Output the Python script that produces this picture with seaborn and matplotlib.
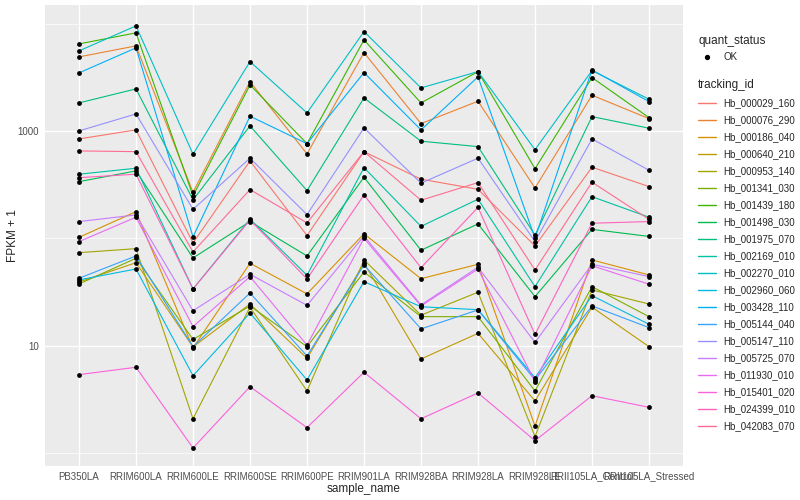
import matplotlib
matplotlib.use("Agg")
import matplotlib.pyplot as plt
import seaborn as sns
import pandas as pd
from matplotlib.lines import Line2D
from matplotlib.ticker import FixedLocator, NullFormatter

# samples on the x axis
samples = ["PB350LA", "RRIM600LA", "RRIM600LE", "RRIM600SE", "RRIM600PE", "RRIM901LA",
           "RRIM928BA", "RRIM928LA", "RRIM928LE", "RRII105LA_Control", "RRII105LA_Stressed"]

genes = ["Hb_000029_160", "Hb_000076_290", "Hb_000186_040", "Hb_000640_210", "Hb_000953_140",
         "Hb_001341_030", "Hb_001439_180", "Hb_001498_030", "Hb_001975_070", "Hb_002169_010",
         "Hb_002270_010", "Hb_002960_060", "Hb_003428_110", "Hb_005144_040", "Hb_005147_110",
         "Hb_005725_070", "Hb_011930_010", "Hb_015401_020", "Hb_024399_010", "Hb_042083_070"]

# ggplot hue palette, 20 levels
colors = ["#F8766D", "#EA8331", "#D89000", "#C09B00", "#A3A500", "#7CAE00", "#39B600",
          "#00BB4E", "#00BF7D", "#00C1A3", "#00BFC4", "#00BAE0", "#00B0F6", "#35A2FF",
          "#9590FF", "#C77CFF", "#E76BF3", "#FA62DB", "#FF62BC", "#FF6C91"]

# FPKM + 1 per gene, one value per sample
fpkm = {
    "Hb_000029_160": [842, 1022, 90.4, 525, 106, 641, 355, 286, 84.8, 459, 303],
    "Hb_000076_290": [4894, 6197, 268, 2880, 611, 5368, 1170, 1891, 294, 2151, 1302],
    "Hb_000186_040": [102, 177, 9.5, 58.5, 30.3, 110, 42.0, 57.2, 1.78, 62.8, 45.5],
    "Hb_000640_210": [39.1, 59.2, 9.7, 24.4, 7.61, 58.5, 7.5, 13.0, 3.05, 22.8, 9.77],
    "Hb_000953_140": [73.4, 80.0, 2.08, 22.8, 3.78, 62.8, 19.2, 31.4, 1.42, 33.0, 24.4],
    "Hb_001341_030": [37.5, 65.1, 11.4, 23.4, 9.77, 48.5, 18.6, 18.6, 3.78, 35.4, 18.6],
    "Hb_001439_180": [6468, 8192, 248, 2684, 761, 7048, 1824, 3570, 445, 3139, 1330],
    "Hb_001498_030": [337, 424, 65.5, 143, 68.4, 370, 77.3, 136, 28.6, 121, 104],
    "Hb_001975_070": [1824, 2463, 228, 1113, 278, 2030, 802, 714, 107, 1359, 1060],
    "Hb_002169_010": [395, 449, 33.7, 151, 45.2, 455, 129, 231, 35.4, 244, 157],
    "Hb_002270_010": [5566, 9520, 607, 4424, 1472, 8424, 2517, 3570, 669, 3648, 1975],
    "Hb_002960_060": [40.9, 51.7, 5.24, 20.1, 4.78, 39.4, 23.0, 21.6, 5.02, 29.2, 15.8],
    "Hb_003428_110": [3472, 5937, 103, 1371, 761, 3494, 1022, 3187, 100, 3703, 1876],
    "Hb_005144_040": [42.4, 68.4, 9.77, 30.9, 8.0, 56.4, 14.3, 21.5, 4.78, 23.4, 14.7],
    "Hb_005147_110": [1000, 1440, 186, 557, 166, 1067, 326, 557, 93.0, 842, 430],
    "Hb_005725_070": [143, 165, 21.1, 46.2, 23.7, 105, 23.9, 53.7, 10.7, 57.2, 43.9],
    "Hb_011930_010": [93.0, 157, 15.0, 43.9, 10.1, 100, 23.4, 51.7, 4.61, 55.5, 37.3],
    "Hb_015401_020": [5.36, 6.28, 1.11, 4.14, 1.72, 5.64, 2.08, 3.62, 1.30, 3.41, 2.66],
    "Hb_024399_010": [367, 395, 33.7, 148, 41.8, 253, 53.2, 194, 12.7, 138, 143],
    "Hb_042083_070": [651, 641, 74.5, 284, 139, 641, 226, 330, 50.6, 333, 150],
}

rows = []
for g in genes:
    for s, v in zip(samples, fpkm[g]):
        rows.append({"tracking_id": g, "sample_name": s, "fpkm": v, "quant_status": "OK"})
df = pd.DataFrame(rows)

sns.set_theme(style="darkgrid", rc={
    "axes.facecolor": "#EBEBEB",
    "grid.color": "white",
    "axes.edgecolor": "#EBEBEB",
})
plt.rcParams["font.family"] = ["Liberation Sans", "DejaVu Sans"]

fig = plt.figure(figsize=(8, 5), dpi=100)
ax = fig.add_axes([0.056, 0.068, 0.798, 0.922])

sns.lineplot(data=df, x="sample_name", y="fpkm", hue="tracking_id", hue_order=genes,
             palette=colors, linewidth=0.8, legend=False, sort=False, ax=ax)
sns.scatterplot(data=df, x="sample_name", y="fpkm", color="black", s=12, linewidth=0,
                legend=False, ax=ax, zorder=3)

ax.set_yscale("log")
ax.set_ylim(0.755, 14900)
ax.set_xlim(-0.6, 10.6)
ax.set_yticks([10, 1000])
ax.set_yticklabels(["10", "1000"])
ax.yaxis.set_minor_locator(FixedLocator([1, 100, 10000]))
ax.yaxis.set_minor_formatter(NullFormatter())
ax.grid(which="major", color="white", linewidth=1.0)
ax.grid(which="minor", axis="y", color="white", linewidth=0.5)
ax.tick_params(which="major", length=3, width=0.8, color="#333333", labelsize=7,
               labelcolor="#4D4D4D", pad=1)
ax.tick_params(which="minor", length=0)
ax.set_xlabel("sample_name", fontsize=8.5, labelpad=1)
ax.set_ylabel("FPKM + 1", fontsize=8.5)
ax.yaxis.set_label_coords(-0.04, 0.5)
for sp in ax.spines.values():
    sp.set_visible(False)

# legends
h1 = [Line2D([], [], marker="o", color="black", linestyle="", markersize=2.8)]
leg1 = fig.legend(h1, ["OK"], title="quant_status", loc="upper left",
                  bbox_to_anchor=(0.868, 0.937), frameon=False, fontsize=7,
                  title_fontsize=8.5, handlelength=1.8, borderaxespad=0)
leg1._legend_box.align = "left"

h2 = [Line2D([], [], color=c, linewidth=1.0) for c in colors]
leg2 = fig.legend(h2, genes, title="tracking_id", loc="upper left",
                  bbox_to_anchor=(0.868, 0.849), frameon=False, fontsize=7,
                  title_fontsize=8.5, handlelength=1.8, labelspacing=0.72,
                  borderaxespad=0)
leg2._legend_box.align = "left"

fig.savefig("out.png", dpi=100)
